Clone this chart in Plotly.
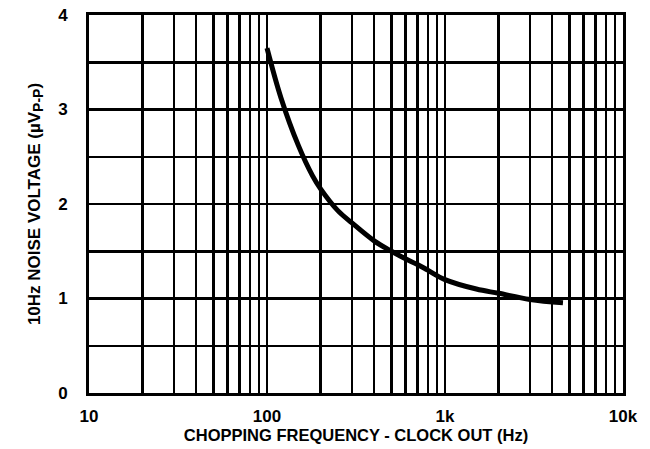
import plotly.graph_objects as go

# Curve data
freq_hz = [100, 120, 150, 180, 200, 250, 300, 400, 500, 600, 700, 800, 1000, 1500, 2000, 3000, 4600]
noise_uvpp = [3.65, 3.12, 2.62, 2.3, 2.16, 1.93, 1.8, 1.61, 1.5, 1.42, 1.36, 1.3, 1.2, 1.1, 1.055, 0.99, 0.955]

# Axis ticks / grid
x_grid_vals = [m * 10 ** d for d in range(1, 4) for m in range(1, 10)] + [10000]
x_major = {10: "10", 100: "100", 1000: "1k", 10000: "10k"}
x_tick_text = [x_major.get(v, "") for v in x_grid_vals]
y_grid_vals = [0, 0.5, 1, 1.5, 2, 2.5, 3, 3.5, 4]
y_tick_text = ["0", "", "1", "", "2", "", "3", "", "4"]

x_title = "CHOPPING FREQUENCY - CLOCK OUT (Hz)"
y_title = "10Hz NOISE VOLTAGE (µV<sub><span style='font-size:14px'>P-P</span></sub>)"

font_family = "Liberation Sans, Arial, sans-serif"

fig = go.Figure()
fig.add_trace(go.Scatter(
    x=freq_hz, y=noise_uvpp, mode="lines",
    line=dict(color="black", width=5, shape="spline", smoothing=1.0),
    hoverinfo="skip", showlegend=False,
))

fig.update_layout(
    width=650, height=449,
    margin=dict(l=89, r=27, t=15, b=56, autoexpand=False),
    paper_bgcolor="white", plot_bgcolor="white",
    font=dict(family=font_family, color="black"),
    showlegend=False,
)

fig.update_xaxes(
    type="log", range=[1, 4], automargin=False,
    tickmode="array", tickvals=x_grid_vals, ticktext=x_tick_text,
    showgrid=True, gridcolor="black", gridwidth=2.5,
    showline=True, linecolor="black", linewidth=3, mirror=True,
    ticks="", ticklabelstandoff=6, ticklabeloverflow="allow",
    tickfont=dict(size=17, family=font_family, color="black", weight="bold"),
    title=dict(text="<b>" + x_title + "</b>", font=dict(size=16.5, family=font_family, color="black"), standoff=4),
    zeroline=False,
)
fig.update_yaxes(
    range=[0, 4], automargin=False,
    tickmode="array", tickvals=y_grid_vals, ticktext=y_tick_text,
    showgrid=True, gridcolor="black", gridwidth=2.5,
    showline=True, linecolor="black", linewidth=3, mirror=True,
    ticks="", ticklabelstandoff=15, ticklabeloverflow="allow",
    tickfont=dict(size=17, family=font_family, color="black", weight="bold"),
    title=dict(text="<b>" + y_title + "</b>", font=dict(size=17, family=font_family, color="black"), standoff=14),
    zeroline=False,
)

# remove the page's default 8px body margin so the figure sits at the window origin
fig.write_html(
    "out.html",
    config={"displayModeBar": False, "staticPlot": True},
    post_script="document.body.style.margin='0';",
)
